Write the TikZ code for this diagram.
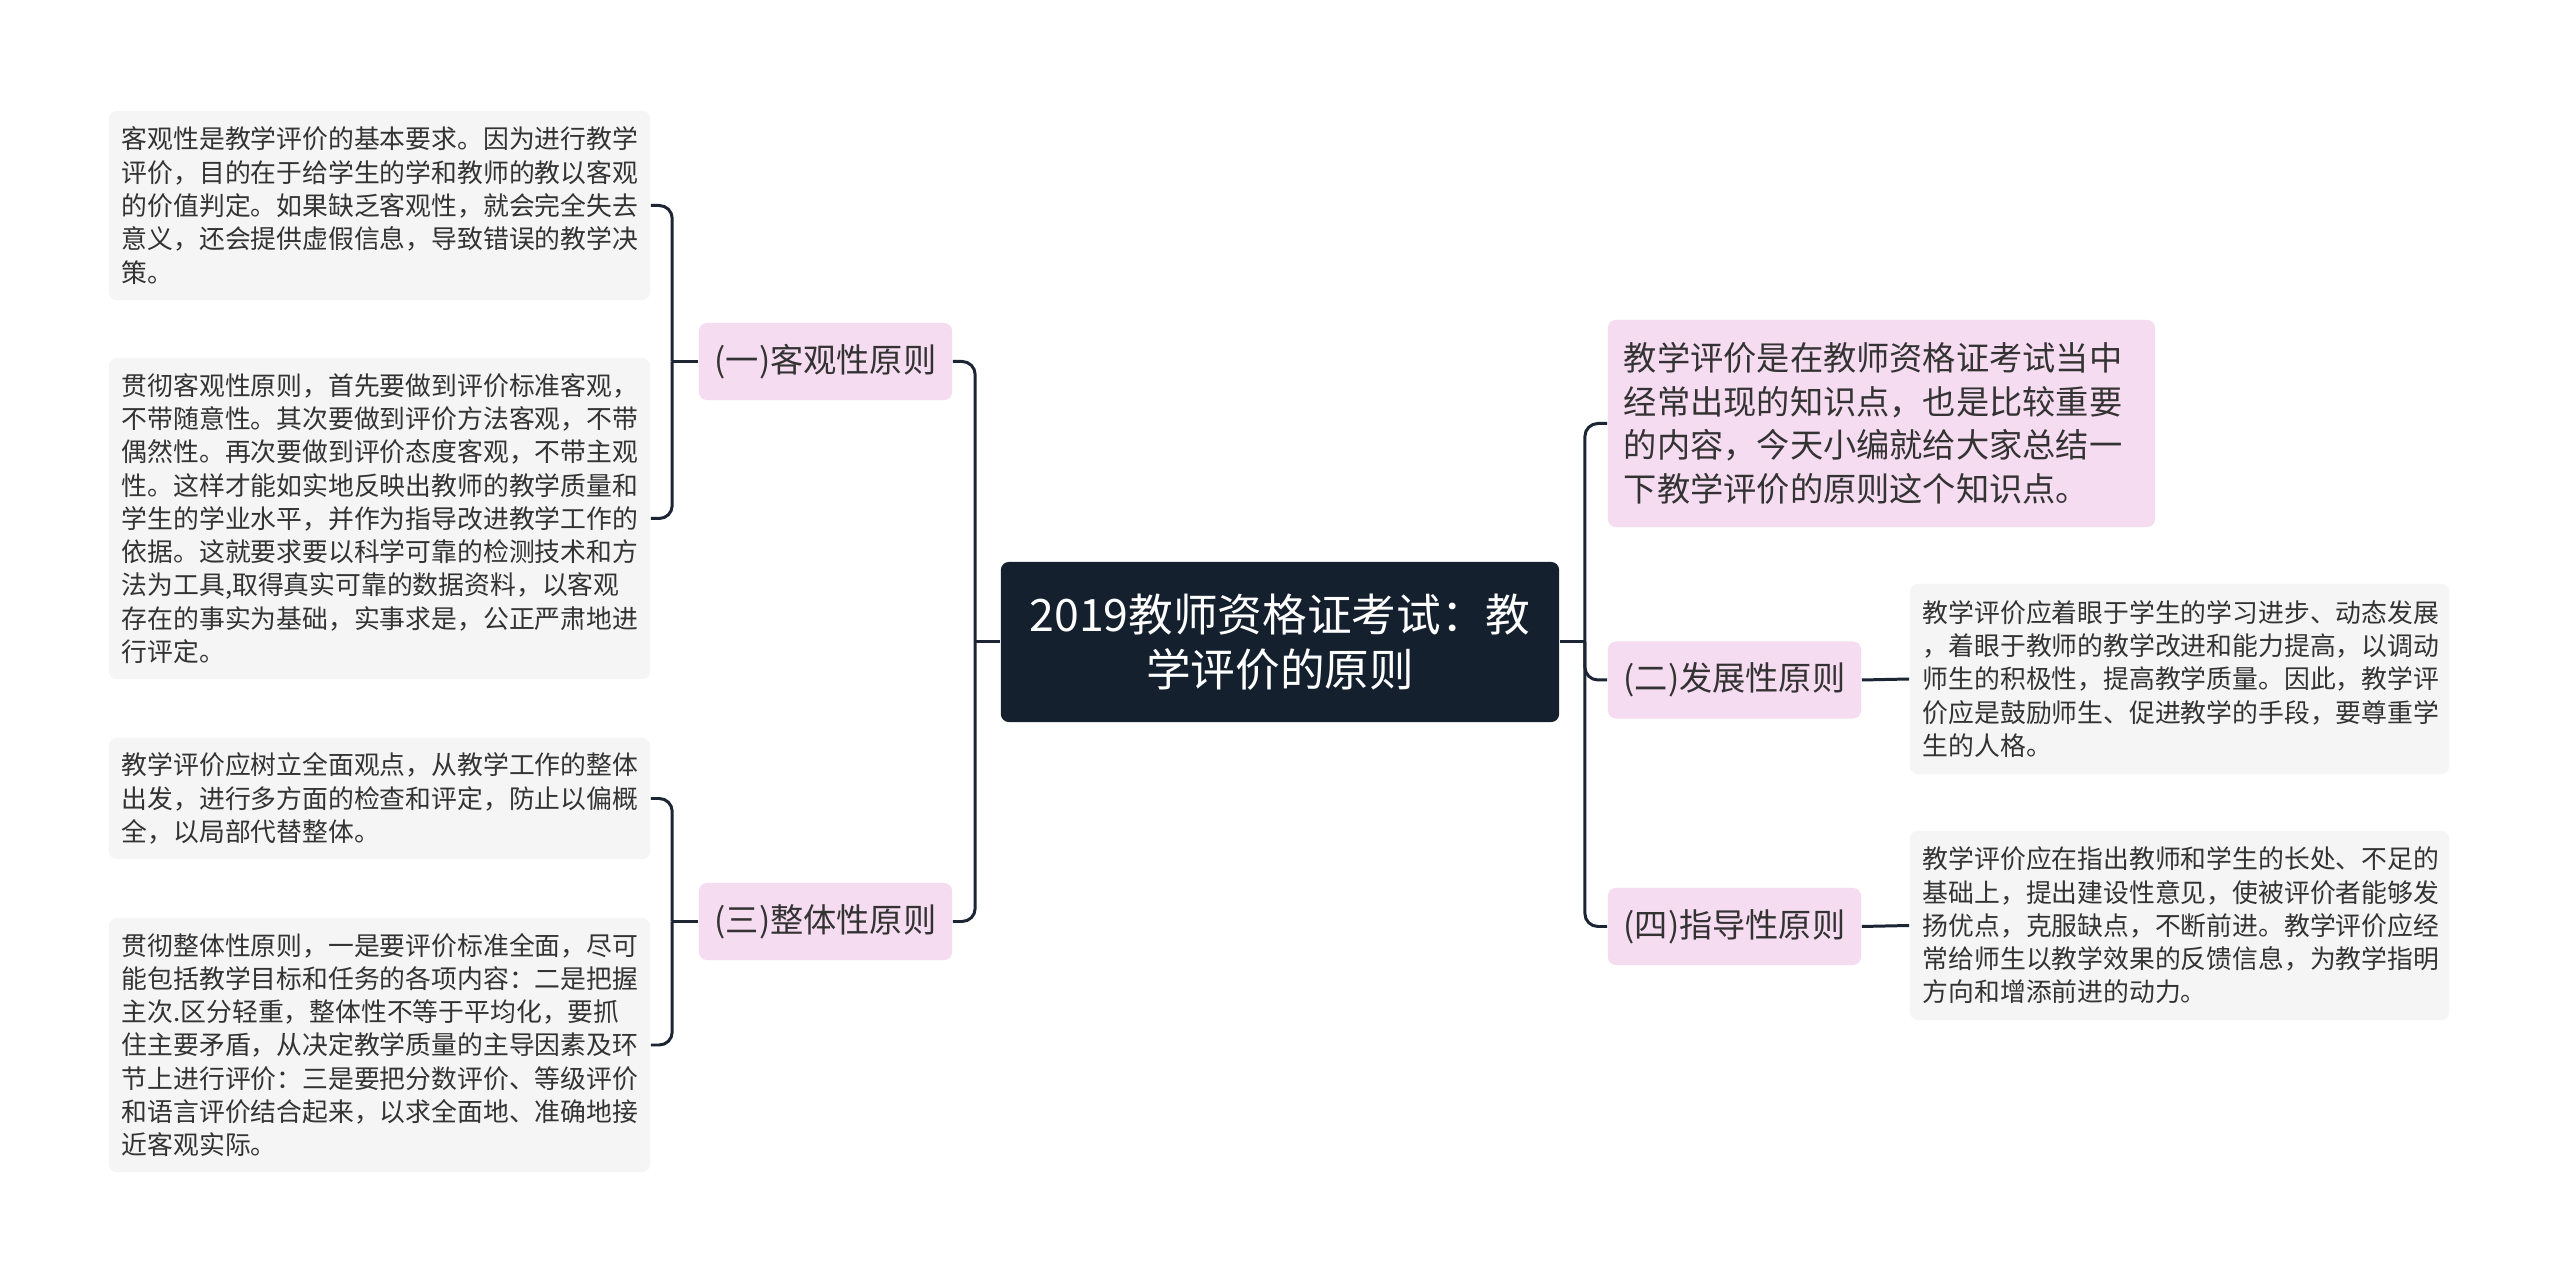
\documentclass[tikz,border=0pt]{standalone}
\usepackage{fontspec}
\newfontfamily\cjk{Noto Sans CJK SC}
\usetikzlibrary{positioning}

\definecolor{rootfill}{HTML}{15202E}
\definecolor{topicfill}{HTML}{F6DCF0}
\definecolor{leaffill}{HTML}{F5F5F5}
\definecolor{linkcol}{HTML}{1C2533}
\definecolor{txtcol}{HTML}{333333}

\tikzset{
  root/.style={fill=rootfill, rounded corners=0.08cm, text=white, align=center,
    minimum width=5.58cm, minimum height=1.6cm, font=\cjk\fontsize{12.7}{15.8}\selectfont},
  topic/.style={fill=topicfill, rounded corners=0.08cm, text=txtcol,
    minimum width=2.53cm, minimum height=0.77cm, font=\cjk\fontsize{9.45}{12.4}\selectfont},
  intro/.style={topic, align=left, text width=5.15cm, inner xsep=0.16cm},
  leaf/.style={fill=leaffill, rounded corners=0.08cm, text=txtcol, align=left,
    text width=5.15cm, inner xsep=0.13cm, font=\cjk\fontsize{7.34}{9.47}\selectfont},
  link/.style={draw=linkcol, line width=0.85pt},
  elbow/.style={link, rounded corners=0.13cm}
}

\begin{document}
\begin{tikzpicture}[x=0.01cm, y=-0.01cm]
  \useasboundingbox[fill=white] (0,0) rectangle (2560,1283);

  % Root
  \node[root] (root) at (1280,642) {2019教师资格证考试：教\\学评价的原则};

  % Left topics
  \node[topic] (obj) at (825.5,361.5) {(一)客观性原则};
  \node[topic] (whole) at (825.5,921.5) {(三)整体性原则};

  % Right topics
  \node[intro, minimum height=2.07cm] (intro) at (1881.5,423.5)
    {教学评价是在教师资格证考试当中\\经常出现的知识点，也是比较重要\\的内容，今天小编就给大家总结一\\下教学评价的原则这个知识点。};
  \node[topic] (dev) at (1734.5,680) {(二)发展性原则};
  \node[topic] (guide) at (1734.5,926.5) {(四)指导性原则};

  % Left leaves
  \node[leaf, minimum height=1.89cm] (objA) at (379.5,205.5)
    {客观性是教学评价的基本要求。因为进行教学\\评价，目的在于给学生的学和教师的教以客观\\的价值判定。如果缺乏客观性，就会完全失去\\意义，还会提供虚假信息，导致错误的教学决\\策。};
  \node[leaf, minimum height=3.21cm] (objB) at (379.5,518.5)
    {贯彻客观性原则，首先要做到评价标准客观，\\不带随意性。其次要做到评价方法客观，不带\\偶然性。再次要做到评价态度客观，不带主观\\性。这样才能如实地反映出教师的教学质量和\\学生的学业水平，并作为指导改进教学工作的\\依据。这就要求要以科学可靠的检测技术和方\\法为工具,取得真实可靠的数据资料，以客观\\存在的事实为基础，实事求是，公正严肃地进\\行评定。};
  \node[leaf, minimum height=1.21cm] (wholeA) at (379.5,798.5)
    {教学评价应树立全面观点，从教学工作的整体\\出发，进行多方面的检查和评定，防止以偏概\\全，以局部代替整体。};
  \node[leaf, minimum height=2.54cm] (wholeB) at (379.5,1045)
    {贯彻整体性原则，一是要评价标准全面，尽可\\能包括教学目标和任务的各项内容：二是把握\\主次.区分轻重，整体性不等于平均化，要抓\\住主要矛盾，从决定教学质量的主导因素及环\\节上进行评价：三是要把分数评价、等级评价\\和语言评价结合起来，以求全面地、准确地接\\近客观实际。};

  % Right leaves
  \node[leaf, text width=5.13cm, minimum height=1.9cm] (devA) at (2179.5,679)
    {教学评价应着眼于学生的学习进步、动态发展\\，着眼于教师的教学改进和能力提高，以调动\\师生的积极性，提高教学质量。因此，教学评\\价应是鼓励师生、促进教学的手段，要尊重学\\生的人格。};
  \node[leaf, text width=5.13cm, minimum height=1.89cm] (guideA) at (2179.5,925.5)
    {教学评价应在指出教师和学生的长处、不足的\\基础上，提出建设性意见，使被评价者能够发\\扬优点，克服缺点，不断前进。教学评价应经\\常给师生以教学效果的反馈信息，为教学指明\\方向和增添前进的动力。};

  % Root connectors
  \draw[link] (root.west) -- ++(-25,0) coordinate (jl);
  \foreach \n in {obj,whole} \draw[elbow] (jl) |- (\n.east);
  \draw[link] (root.east) -- ++(25,0) coordinate (jr);
  \foreach \n in {intro,dev,guide} \draw[elbow] (jr) |- (\n.west);

  % Leaf connectors
  \draw[link] (obj.west) -- ++(-26,0) coordinate (ja);
  \foreach \n in {objA,objB} \draw[elbow] (ja) |- (\n.east);
  \draw[link] (whole.west) -- ++(-26,0) coordinate (jb);
  \foreach \n in {wholeA,wholeB} \draw[elbow] (jb) |- (\n.east);
  \draw[link] (dev.east) -- (devA.west);
  \draw[link] (guide.east) -- (guideA.west);
\end{tikzpicture}
\end{document}
